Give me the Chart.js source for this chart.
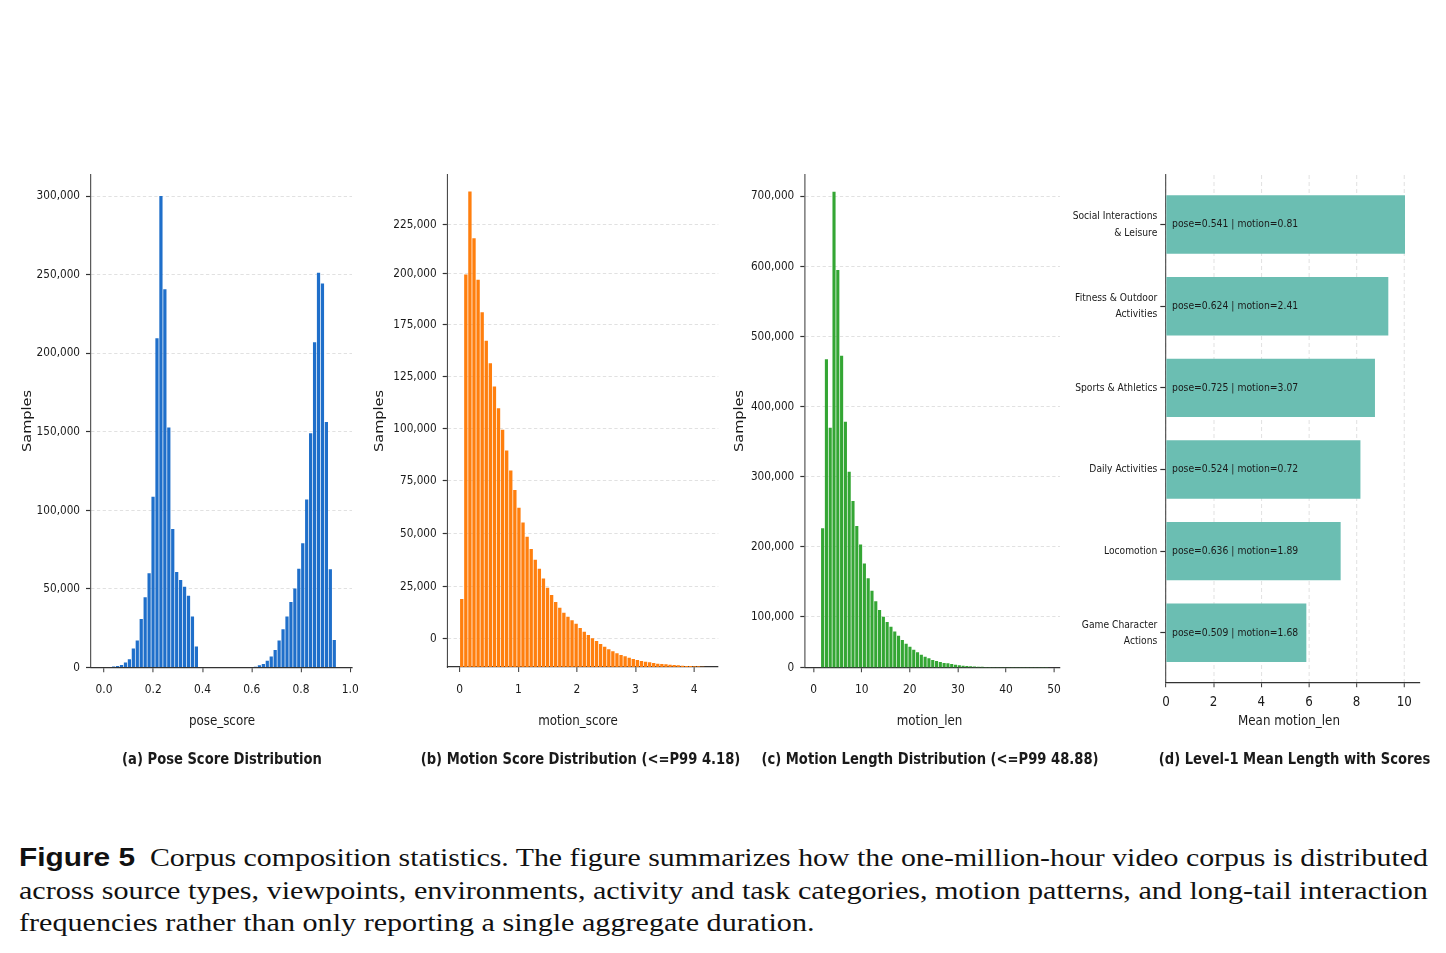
<!DOCTYPE html>
<html>
<head>
<meta charset="utf-8">
<script src="https://cdn.jsdelivr.net/npm/chart.js@4.4.1/dist/chart.umd.min.js"></script>
<style>
  html, body { margin: 0; background: #fff; }
  body { width: 1446px; height: 953px; position: relative; overflow: hidden; }
  #fig { position: absolute; left: 0; top: 0; width: 1446px; height: 820px; overflow: hidden; }
  #fig canvas { position: absolute; left: 0; top: 150px; }
  #caption { position: absolute; left: 19px; top: 842px; width: 1409px; font: 26px/32.5px "Liberation Serif", serif; color: #111; }
  #caption > div { white-space: nowrap; }
  #caption span { display: inline-block; transform-origin: 0 50%; }
  #caption b { font: bold 26px "Liberation Sans", sans-serif; }
</style>
</head>
<body>
<div id="fig"></div>
<div id="caption">
  <div><span><b>Figure 5</b>&ensp;Corpus composition statistics. The figure summarizes how the one-million-hour video corpus is distributed</span></div>
  <div><span>across source types, viewpoints, environments, activity and task categories, motion patterns, and long-tail interaction</span></div>
  <div><span>frequencies rather than only reporting a single aggregate duration.</span></div>
</div>
<script>
// (a) pose score histogram
const poseBinStart = 0.031;
const poseBinWidth = 0.016;
const poseCounts = [
  500, 850, 1500, 3000, 5100, 11900, 17000, 30800, 44600, 59800, 108600,
  209400, 300000, 240600, 152600, 88000, 60700, 55600, 51300, 45600, 32300, 13200,
  0, 0, 0, 0, 0, 0, 0, 0, 0, 0, 0, 0, 0, 0,
  400, 1300, 2100, 4200, 6800, 11000, 17000, 24200, 32300, 41600, 50100,
  62800, 78900, 106900, 149000, 206900, 251200, 244400, 156200, 62400, 17400
];
const poseXTicks = [0, 0.2, 0.4, 0.6, 0.8, 1.0];
const poseXLabels = ['0.0', '0.2', '0.4', '0.6', '0.8', '1.0'];
const poseYTicks = [0, 50000, 100000, 150000, 200000, 250000, 300000];
const poseYLabels = ['0', '50,000', '100,000', '150,000', '200,000', '250,000', '300,000'];

// (b) motion score histogram (<= P99 4.18)
const motionBinStart = 0;
const motionBinWidth = 0.0697;
const motionCounts = [
  32850, 189700, 229800, 207250, 187120, 171500, 157650, 146860, 135590, 125120,
  114650, 104670, 95010, 85510, 76970, 69890, 62960, 57010, 51850, 47500,
  42830, 38330, 34780, 31400, 28600, 26200, 24300, 22600, 20900, 18800,
  17070, 15460, 13850, 12560, 11110, 9820, 8530, 7570, 6600, 5800,
  5150, 4510, 3860, 3380, 2900, 2580, 2250, 1930, 1610, 1450,
  1290, 1130, 970, 810, 640, 480, 480, 320, 320, 160
];
const motionXTicks = [0, 1, 2, 3, 4];
const motionXLabels = ['0', '1', '2', '3', '4'];
// tick labels sit where the figure prints them (note: no 150,000)
const motionYTicks = [13700, 38800, 64400, 90000, 115300, 140200, 165400, 190000, 213700];
const motionYLabels = ['0', '25,000', '50,000', '75,000', '100,000', '125,000', '175,000', '200,000', '225,000'];

// (c) motion length histogram (<= P99 48.88)
const lenBinStart = 1.46;
const lenBinWidth = 0.79;
const lenCounts = [
  226000, 467100, 369600, 706300, 594500, 472300, 378100, 306800, 265000, 229300,
  203000, 176000, 155000, 137100, 121900, 109500, 100000, 92400, 85700, 79000,
  72900, 66700, 61500, 57200, 52900, 49100, 45800, 43000, 40600, 38300,
  36900, 35400, 34000, 33500, 32550, 31600, 30900, 30180, 29700, 29230,
  29000, 28750, 28510, 28280, 28280, 28040, 28040, 28000, 28000, 28000,
  28000, 28000, 28000, 28000, 28000, 27900, 27900, 27900, 27900, 27900
];
const lenXTicks = [0, 10, 20, 30, 40, 50];
const lenXLabels = ['0', '10', '20', '30', '40', '50'];
const lenYTicks = [27800, 100000, 200000, 300000, 400000, 500000, 600000, 700000];
const lenYLabels = ['0', '100,000', '200,000', '300,000', '400,000', '500,000', '600,000', '700,000'];

// (d) level-1 categories
const categories = [
  ['Social Interactions', '& Leisure'],
  ['Fitness & Outdoor', 'Activities'],
  ['Sports & Athletics'],
  ['Daily Activities'],
  ['Locomotion'],
  ['Game Character', 'Actions']
];
const meanLen = [10.03, 9.33, 8.77, 8.16, 7.33, 5.89];
const meanPose = [0.541, 0.624, 0.725, 0.524, 0.636, 0.509];
const meanMotion = [0.81, 2.41, 3.07, 0.72, 1.89, 1.68];
const meanLenTicks = [0, 2, 4, 6, 8, 10];

// the whole figure is horizontally squeezed: lay out wide, draw with an x-scale
const SX = 0.82;
const FIG_W = 1446, FIG_TOP = 150, FIG_BOTTOM = 800;
const CANVAS_W = Math.round(FIG_W / SX);
const X_AXIS_H = 50;
const TEXT = '#1a1a1a', AXIS = '#333', GRID = '#d6d6d6';
const FAMILY = '"DejaVu Sans", sans-serif';
const TITLE_FONT = `14.5px ${FAMILY}`;
const CAP_FONT = `bold 16px ${FAMILY}`;

Chart.defaults.animation = false;
Chart.defaults.events = [];
Chart.defaults.font.family = FAMILY;
Chart.defaults.color = TEXT;

const fig = document.getElementById('fig');

function newCanvas() {
  const c = document.createElement('canvas');
  c.width = CANVAS_W;
  c.height = FIG_BOTTOM - FIG_TOP;
  fig.appendChild(c);
  return c;
}

function boxLayout(b, yAxisW) {
  return {
    padding: {
      left: b.left / SX - yAxisW,
      top: b.top - FIG_TOP,
      right: CANVAS_W - b.right / SX,
      bottom: FIG_BOTTOM - b.bottom - X_AXIS_H
    }
  };
}

// sets the horizontal squeeze before drawing, writes titles/captions, then resets
function squeezePlugin(items) {
  return {
    id: 'squeeze',
    beforeDraw(chart) { chart.ctx.setTransform(SX, 0, 0, 1, 0, 0); },
    afterDraw(chart) {
      const ctx = chart.ctx;
      ctx.save();
      ctx.fillStyle = TEXT;
      ctx.textAlign = 'center';
      ctx.textBaseline = 'middle';
      items.forEach((it) => {
        ctx.save();
        ctx.font = it.font;
        ctx.translate(it.x / SX, it.y - FIG_TOP);
        if (it.rotate) ctx.rotate(-Math.PI / 2);
        ctx.fillText(it.text, 0, 0);
        ctx.restore();
      });
      ctx.restore();
      ctx.setTransform(1, 0, 0, 1, 0, 0);
    }
  };
}

function fixedTicks(values) {
  return (scale) => { scale.ticks = values.map((v) => ({ value: v })); };
}

function histChart(cfg) {
  const yAxisW = 70;
  return new Chart(newCanvas(), {
    type: 'bar',
    data: {
      datasets: [{
        data: cfg.counts.map((c, i) => ({ x: cfg.binStart + (i + 0.5) * cfg.binWidth, y: c })),
        backgroundColor: cfg.color,
        borderWidth: 0,
        barPercentage: 0.82,
        categoryPercentage: 1
      }]
    },
    options: {
      responsive: false,
      devicePixelRatio: 1,
      layout: boxLayout(cfg.box, yAxisW),
      plugins: { legend: { display: false }, tooltip: { enabled: false } },
      scales: {
        x: {
          type: 'linear', min: cfg.xMin, max: cfg.xMax, offset: false,
          afterBuildTicks: fixedTicks(cfg.xTicks),
          afterFit: (s) => { s.height = X_AXIS_H; },
          ticks: { callback: (v, i) => cfg.xLabels[i], padding: 10, maxRotation: 0, autoSkip: false, font: { size: 13 } },
          grid: { offset: false, drawOnChartArea: false, tickLength: 5, tickColor: AXIS, tickWidth: 1.2 },
          border: { color: AXIS, width: 1.2 }
        },
        y: {
          type: 'linear', min: cfg.yMin, max: cfg.yMax, beginAtZero: false,
          afterBuildTicks: fixedTicks(cfg.yTicks),
          afterFit: (s) => { s.width = yAxisW; },
          ticks: { callback: (v, i) => cfg.yLabels[i], padding: 6 / SX, autoSkip: false, font: { size: 12.8 } },
          grid: { color: GRID, lineWidth: 0.8, tickLength: 5 / SX, tickColor: AXIS, tickWidth: 1.2 },
          border: { color: AXIS, width: 1.2, dash: [4, 3] }
        }
      }
    },
    plugins: [squeezePlugin(cfg.texts)]
  });
}

histChart({
  counts: poseCounts, binStart: poseBinStart, binWidth: poseBinWidth, color: '#1f6fca',
  box: { left: 91, right: 352, top: 175, bottom: 667.3 },
  xMin: -0.053, xMax: 1.007, xTicks: poseXTicks, xLabels: poseXLabels,
  yMin: 0, yMax: 313400, yTicks: poseYTicks, yLabels: poseYLabels,
  texts: [
    { text: 'Samples', x: 28, y: 421, rotate: true, font: TITLE_FONT },
    { text: 'pose_score', x: 222, y: 721, font: TITLE_FONT },
    { text: '(a) Pose Score Distribution', x: 222, y: 760, font: CAP_FONT }
  ]
});

histChart({
  counts: motionCounts, binStart: motionBinStart, binWidth: motionBinWidth, color: '#ff7f0e',
  box: { left: 447.7, right: 718.3, top: 175, bottom: 667 },
  xMin: -0.205, xMax: 4.413, xTicks: motionXTicks, xLabels: motionXLabels,
  yMin: 0, yMax: 237800, yTicks: motionYTicks, yLabels: motionYLabels,
  texts: [
    { text: 'Samples', x: 380, y: 421, rotate: true, font: TITLE_FONT },
    { text: 'motion_score', x: 578, y: 721, font: TITLE_FONT },
    { text: '(b) Motion Score Distribution (<=P99 4.18)', x: 580.5, y: 760, font: CAP_FONT }
  ]
});

histChart({
  counts: lenCounts, binStart: lenBinStart, binWidth: lenBinWidth, color: '#34a634',
  box: { left: 805.3, right: 1060, top: 175, bottom: 667.3 },
  xMin: -1.75, xMax: 51.25, xTicks: lenXTicks, xLabels: lenXLabels,
  yMin: 27800, yMax: 730100, yTicks: lenYTicks, yLabels: lenYLabels,
  texts: [
    { text: 'Samples', x: 740, y: 421, rotate: true, font: TITLE_FONT },
    { text: 'motion_len', x: 929.5, y: 721, font: TITLE_FONT },
    { text: '(c) Motion Length Distribution (<=P99 48.88)', x: 930, y: 760, font: CAP_FONT }
  ]
});

// (d) horizontal bars with score annotations
const barLabels = {
  id: 'barLabels',
  afterDatasetsDraw(chart) {
    const ctx = chart.ctx;
    const meta = chart.getDatasetMeta(0);
    ctx.save();
    ctx.fillStyle = TEXT;
    ctx.font = `11.3px ${FAMILY}`;
    ctx.textAlign = 'left';
    ctx.textBaseline = 'middle';
    meta.data.forEach((bar, i) => {
      ctx.fillText(`pose=${meanPose[i].toFixed(3)} | motion=${meanMotion[i].toFixed(2)}`, bar.base + 5.7 / SX, bar.y);
    });
    ctx.restore();
  }
};

new Chart(newCanvas(), {
  type: 'bar',
  data: {
    datasets: [{
      data: meanLen.map((v, i) => ({ x: v, y: i })),
      backgroundColor: '#6bbeb2',
      borderWidth: 0,
      barPercentage: 0.715,
      categoryPercentage: 1
    }]
  },
  options: {
    responsive: false,
    devicePixelRatio: 1,
    indexAxis: 'y',
    layout: boxLayout({ left: 1166, right: 1420, top: 175, bottom: 682.3 }, 130),
    plugins: { legend: { display: false }, tooltip: { enabled: false } },
    scales: {
      x: {
        type: 'linear', min: 0, max: 10.66,
        afterBuildTicks: fixedTicks(meanLenTicks),
        afterFit: (s) => { s.height = X_AXIS_H; },
        ticks: { padding: 6, maxRotation: 0, autoSkip: false, font: { size: 14.5 } },
        grid: { color: GRID, lineWidth: 0.8, tickLength: 5, tickColor: AXIS, tickWidth: 1.2 },
        border: { color: AXIS, width: 1.2, dash: [4, 3] }
      },
      y: {
        type: 'linear', min: -0.607, max: 5.607, reverse: true, offset: false,
        afterBuildTicks: fixedTicks(categories.map((c, i) => i)),
        afterFit: (s) => { s.width = 130; },
        ticks: { callback: (v, i) => categories[i], padding: 3 / SX, autoSkip: false, font: { size: 11.2, lineHeight: 1.45 } },
        grid: { offset: false, drawOnChartArea: false, tickLength: 5.7 / SX, tickColor: AXIS, tickWidth: 1.2 },
        border: { color: AXIS, width: 1.2 }
      }
    }
  },
  plugins: [barLabels, squeezePlugin([
    { text: 'Mean motion_len', x: 1289, y: 721, font: TITLE_FONT },
    { text: '(d) Level-1 Mean Length with Scores', x: 1294.5, y: 760, font: CAP_FONT }
  ])]
});

// caption lines: stretch the first two to the full text width, reuse that for the last
const capWidth = 1409;
const capSpans = document.querySelectorAll('#caption span');
const fullScale = capWidth / capSpans[1].offsetWidth;
capSpans.forEach((s, i) => {
  const k = i < 2 ? capWidth / s.offsetWidth : fullScale;
  s.style.transform = `scaleX(${k})`;
});
</script>
</body>
</html>
